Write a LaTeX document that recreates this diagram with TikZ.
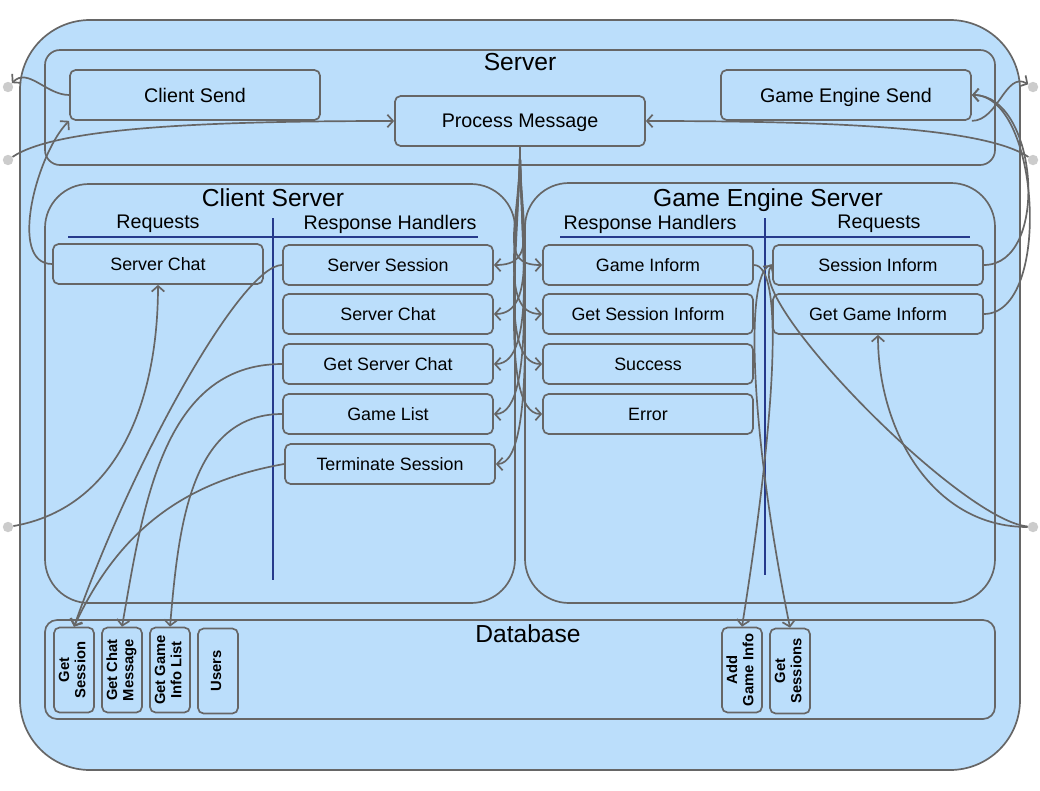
\documentclass[tikz,border=0pt]{standalone}
\usepackage{fontspec}
\usepackage{graphicx}
\setmainfont{Liberation Sans}
\usetikzlibrary{arrows.meta}

\definecolor{paleblue}{RGB}{187,222,251}
\definecolor{linegray}{RGB}{102,102,102}
\definecolor{divblue}{RGB}{38,58,140}
\definecolor{dotgray}{RGB}{204,204,204}

% 数据库里竖排的两行文字
\newcommand{\dblabel}[1]{\rotatebox{90}{\begin{tabular}{@{}c@{}}#1\end{tabular}}}

\begin{document}
\begin{tikzpicture}[x=0.025cm, y=0.025cm,
    rim/.style={draw=linegray, line width=1.2pt},
    bigtitle/.style={font=\fontsize{17.5}{20}\selectfont, inner sep=0pt, text depth=0pt},
    colhead/.style={font=\fontsize{14}{16}\selectfont, inner sep=0pt, text depth=0pt},
    sendbox/.style={rim, fill=paleblue, rounded corners=4pt, minimum width=6.25cm, minimum height=1.25cm, text depth=0pt, font=\fontsize{14}{16}\selectfont},
    hbox/.style={rim, fill=paleblue, rounded corners=4pt, minimum width=5.25cm, minimum height=1cm, text depth=0pt, font=\fontsize{12.7}{15}\selectfont},
    dbbox/.style={rim, fill=paleblue, rounded corners=4pt, minimum width=1cm, minimum height=2.125cm, inner sep=0pt, font=\bfseries\fontsize{10.5}{11.5}\selectfont},
    divider/.style={draw=divblue, line width=1.2pt},
    enddot/.style={circle, fill=dotgray, minimum size=0.26cm, inner sep=0pt},
    link/.style={draw=linegray, line width=1.2pt, -{Straight Barb[length=4pt,width=9pt]}}]

    % 画布: 1040 x 790 像素, 1 单位 = 1 像素, y 向下为负
    \fill[white] (0,0) rectangle (1040,-790);
    \useasboundingbox (0,0) rectangle (1040,-790);

    % 外框与各个分区
    \draw[rim, fill=paleblue, rounded corners=1.75cm] (20,-20) rectangle (1020,-770);
    \draw[rim, rounded corners=0.375cm] (45,-50) rectangle (995,-165);
    \draw[rim, rounded corners=1.1cm] (45,-184) rectangle (515,-603);
    \draw[rim, rounded corners=1.1cm] (525,-183) rectangle (995,-603);
    \draw[rim, rounded corners=0.3cm] (45,-620) rectangle (995,-719);

    % Server
    \node[bigtitle] (srvT) at (520,-62) {Server};
    \node[sendbox] (cSend) at (195,-95) {Client Send};
    \node[sendbox] (pMsg) at (520,-121) {Process Message};
    \node[sendbox] (gSend) at (846,-95) {Game Engine Send};

    % Client Server
    \node[bigtitle] (csT) at (273,-198) {Client Server};
    \node[colhead] (csReq) at (158,-222) {Requests};
    \node[colhead] (csResp) at (390,-222) {Response Handlers};
    \draw[divider] (68,-237) -- (478,-237);
    \draw[divider] (273,-218) -- (273,-580);
    \node[hbox] (csChat) at (158,-264) {Server Chat};
    \node[hbox] (sSess) at (388,-265) {Server Session};
    \node[hbox] (sChat) at (388,-314) {Server Chat};
    \node[hbox] (gsChat) at (388,-364) {Get Server Chat};
    \node[hbox] (gList) at (388,-414) {Game List};
    \node[hbox] (term) at (390,-464) {Terminate Session};

    % Game Engine Server
    \node[bigtitle] (geT) at (768,-198) {Game Engine Server};
    \node[colhead] (geResp) at (650,-222) {Response Handlers};
    \node[colhead] (geReq) at (879,-222) {Requests};
    \draw[divider] (560,-237) -- (970,-237);
    \draw[divider] (765,-218) -- (765,-575);
    \node[hbox] (gInf) at (648,-265) {Game Inform};
    \node[hbox] (gsInf) at (648,-314) {Get Session Inform};
    \node[hbox] (succ) at (648,-364) {Success};
    \node[hbox] (err) at (648,-414) {Error};
    \node[hbox] (sInf) at (878,-265) {Session Inform};
    \node[hbox] (ggInf) at (878,-314) {Get Game Inform};

    % Database
    \node[bigtitle] (dbT) at (528,-634) {Database};
    \node[dbbox] (getSess) at (74,-670) {\dblabel{Get\\Session}};
    \node[dbbox] (getChat) at (122,-670) {\dblabel{Get Chat\\Message}};
    \node[dbbox] (getInfo) at (170,-670) {\dblabel{Get Game\\Info List}};
    \node[dbbox] (users) at (218,-671) {\dblabel{Users}};
    \node[dbbox] (addInfo) at (742,-670) {\dblabel{Add\\Game Info}};
    \node[dbbox] (getSessions) at (790,-671) {\dblabel{Get\\Sessions}};

    % 外部端点
    \node[enddot] (dL1) at (8,-87) {};
    \node[enddot] (dL2) at (8,-160) {};
    \node[enddot] (dL3) at (8,-527) {};
    \node[enddot] (dR1) at (1033,-87) {};
    \node[enddot] (dR2) at (1033,-160) {};
    \node[enddot] (dR3) at (1033,-527) {};

    % 左侧连线
    \draw[link] (cSend.west) to[out=180,in=45] (dL1);
    \draw[link] (dL2) .. controls (55,-128) and (200,-121) .. (pMsg.west);
    \draw[link] (csChat.west) to[out=180,in=225,looseness=0.8] (cSend.south west);
    \draw[link] (dL3) to[out=10,in=-90] (csChat.south);

    % 右侧连线
    \draw[link] (gSend.south east) to[out=0,in=150] (dR1);
    \draw[link] (dR2) .. controls (985,-128) and (840,-121) .. (pMsg.east);
    \draw[link] (sInf.east) to[out=0,in=0] (gSend.east);
    \draw[link] (ggInf.east) to[out=0,in=0,looseness=0.8] (gSend.east);
    \draw[link] (dR3) to[out=180,in=-90] (ggInf.south);
    \draw[link] (dR3) .. controls (960,-520) and (745,-300) .. (sInf.west);

    % Process Message 分发
    \foreach \n in {sSess,sChat,gsChat,gList,term}
        \draw[link] (pMsg.south) .. controls +(0,-80) and +(45,0) .. (\n.east);
    \foreach \n in {gInf,gsInf,succ,err}
        \draw[link] (pMsg.south) .. controls +(0,-80) and +(-45,0) .. (\n.west);

    % 到数据库
    \draw[link] (sSess.west) .. controls +(-40,0) and +(60,170) .. (getSess.north);
    \draw[link] (gsChat.west) to[out=180,in=80] (getChat.north);
    \draw[link] (gList.west) to[out=180,in=85] (getInfo.north);
    \draw[link] (term.west) to[out=190,in=65] (getSess.north);
    \draw[link] (gInf.east) .. controls (785,-265) and (775,-420) .. (addInfo.north);
    \draw[link] (sInf.west) .. controls (745,-265) and (748,-420) .. (getSessions.north);
\end{tikzpicture}
\end{document}
